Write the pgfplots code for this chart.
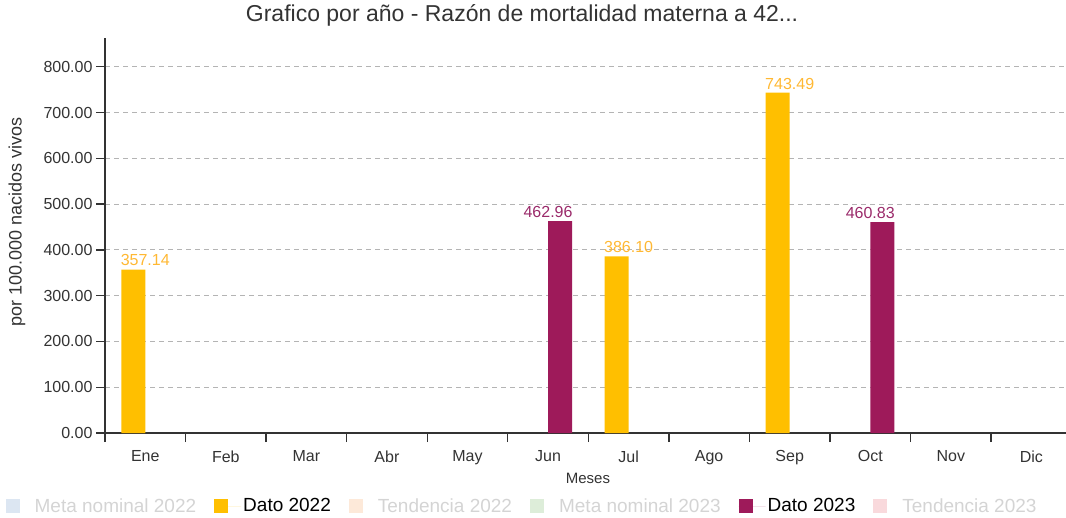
\documentclass[border=0pt]{standalone}
\usepackage{fontspec}
\setmainfont{Liberation Sans}
\usepackage{pgfplots}
\usepackage{pgfplotstable}
\pgfplotsset{compat=1.18}
\definecolor{c22}{HTML}{FFBF00}
\definecolor{c23}{HTML}{9E1A5A}
\definecolor{lbl22}{HTML}{FFB833}
\definecolor{lbl23}{HTML}{9A2A6A}
\definecolor{fadetext}{HTML}{D4D4D4}
\definecolor{meta22}{HTML}{DCE6F2}
\definecolor{ten22}{HTML}{FDE9D9}
\definecolor{meta23}{HTML}{DDEDD9}
\definecolor{ten23}{HTML}{F9D9DC}
\definecolor{axcol}{HTML}{333333}
\definecolor{gridcol}{HTML}{B4B4B4}

\pgfplotstableread{
x y
0.5 357.14
6.5 386.10
8.5 743.49
}\datoA
\pgfplotstableread{
x y
5.5 462.96
9.5 460.83
}\datoB

\newcommand{\sq}[1]{\fill[#1, draw=none] (0pt,-7pt) rectangle (14pt,7pt); \path[draw=none] (0pt,0pt) -- (27pt,0pt);}

\begin{document}
\begin{tikzpicture}
\useasboundingbox (0,0) rectangle (1066pt,517pt);
\begin{axis}[
 at={(105pt,84pt)}, anchor=south west,
 scale only axis, width=961pt, height=395pt,
 xmin=0, xmax=11.93, ymin=0, ymax=863,
 axis x line=bottom, axis y line=left,
 axis line style={-, draw=axcol, line width=1.3pt},
 every tick/.style={draw=axcol, line width=1.3pt},
 tick align=outside, major tick length=9pt,
 /pgf/number format/assume math mode=true,
 tick label style={font=\fontsize{16}{19}\selectfont, text=axcol},
 xtick={0,...,11}, xticklabels={,,,,,,,,,,,},
 extra x ticks={0.5,1.5,2.5,3.5,4.5,5.5,6.5,7.5,8.5,9.5,10.5,11.5},
 extra x tick labels={Ene,Feb,Mar,Abr,May,Jun,Jul,Ago,Sep,Oct,Nov,Dic},
 extra x tick style={major tick length=0pt, grid=none, xticklabel style={yshift=-14pt}},
 ytick={0,100,...,800},
 yticklabel style={/pgf/number format/fixed, /pgf/number format/fixed zerofill, /pgf/number format/precision=2, /pgf/number format/1000 sep={}},
 ymajorgrids, grid style={gridcol, dash pattern=on 5pt off 4pt, line width=1pt},
 title={Grafico por año - Razón de mortalidad materna a 42...},
 title style={at={(axis description cs:0.434,1.043)}, anchor=center, font=\fontsize{23}{27}\selectfont, text=axcol},
 ylabel={por 100.000 nacidos vivos},
 ylabel style={at={(axis description cs:-0.0916,0.535)}, anchor=center, font=\fontsize{18}{21}\selectfont, text=axcol},
 xlabel={Meses},
 xlabel style={at={(axis description cs:0.5026,-0.114)}, anchor=center, font=\fontsize{15}{18}\selectfont, text=axcol},
 legend columns=6,
 legend cell align=left,
 legend style={at={(axis description cs:0.434,-0.185)}, anchor=center, draw=none, fill=none, font=\fontsize{19}{22}\selectfont, /tikz/every even column/.append style={column sep=16pt}},
]
\addlegendimage{draw=none, legend image code/.code={\sq{meta22}}}
\addlegendentry[text=fadetext]{Meta nominal 2022}
\addplot[ybar, bar width=24pt, bar shift=-12pt, fill=c22, draw=none,
  legend image code/.code={\sq{c22}},
  nodes near coords,
  every node near coord/.append style={anchor=south, text=lbl22, font=\fontsize{16}{19}\selectfont,
    /pgf/number format/fixed, /pgf/number format/fixed zerofill, /pgf/number format/precision=2}]
  table[x=x,y=y]{\datoA};
\addlegendentry{Dato 2022}
\addlegendimage{draw=none, legend image code/.code={\sq{ten22}}}
\addlegendentry[text=fadetext]{Tendencia 2022}
\addlegendimage{draw=none, legend image code/.code={\sq{meta23}}}
\addlegendentry[text=fadetext]{Meta nominal 2023}
\addplot[ybar, bar width=24pt, bar shift=12pt, fill=c23, draw=none,
  legend image code/.code={\sq{c23}},
  nodes near coords,
  every node near coord/.append style={anchor=south, text=lbl23, font=\fontsize{16}{19}\selectfont,
    /pgf/number format/fixed, /pgf/number format/fixed zerofill, /pgf/number format/precision=2}]
  table[x=x,y=y]{\datoB};
\addlegendentry{Dato 2023}
\addlegendimage{draw=none, legend image code/.code={\sq{ten23}}}
\addlegendentry[text=fadetext]{Tendencia 2023}
\end{axis}
\end{tikzpicture}
\end{document}
